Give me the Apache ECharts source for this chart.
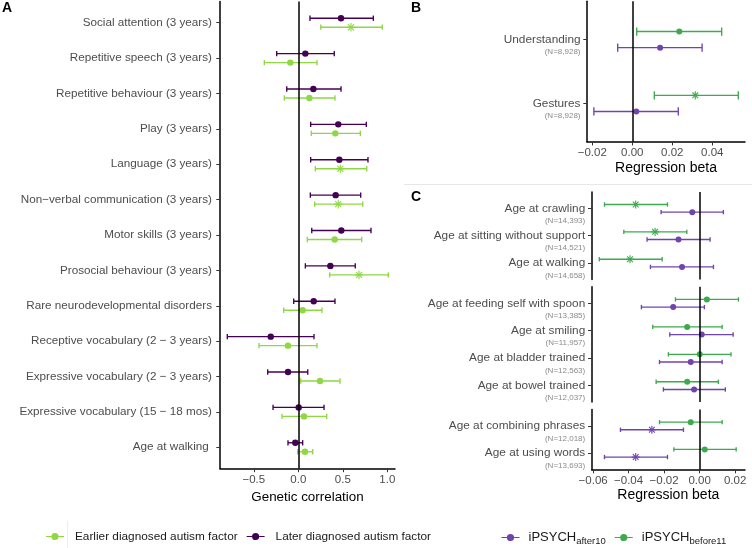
<!DOCTYPE html>
<html><head><meta charset="utf-8">
<script src="https://cdn.jsdelivr.net/npm/echarts@6/dist/echarts.min.js"></script>
<style>html,body{margin:0;padding:0;background:#fff}#c{width:752px;height:548px}</style>
</head><body><div id="c"></div>
<script>
const FONT = '"Liberation Sans", Arial, Helvetica, sans-serif';

// ---------- Panel A data ----------
const catsA = ['Social attention (3 years)', 'Repetitive speech (3 years)', 'Repetitive behaviour (3 years)',
  'Play (3 years)', 'Language (3 years)', 'Non\u2212verbal communication (3 years)', 'Motor skills (3 years)',
  'Prosocial behaviour (3 years)', 'Rare neurodevelopmental disorders', 'Receptive vocabulary (2 \u2212 3 years)',
  'Expressive vocabulary (2 \u2212 3 years)', 'Expressive vocabulary (15 \u2212 18 mos)', 'Age at walking '];
const laterEst = [0.48, 0.079, 0.169, 0.449, 0.461, 0.42, 0.483, 0.36, 0.173, -0.31, -0.116, 0.004, -0.034];
const laterLo  = [0.131, -0.243, -0.13, 0.139, 0.139, 0.135, 0.151, 0.079, -0.052, -0.798, -0.344, -0.284, -0.116];
const laterHi  = [0.843, 0.404, 0.48, 0.764, 0.783, 0.701, 0.817, 0.64, 0.412, 0.176, 0.106, 0.289, 0.049];
const laterSig = [0,0,0,0,0,0,0,0,0,0,0,0,0];
const earlierEst = [0.592, -0.09, 0.124, 0.416, 0.472, 0.449, 0.409, 0.682, 0.049, -0.116, 0.244, 0.064, 0.075];
const earlierLo  = [0.252, -0.382, -0.157, 0.146, 0.191, 0.184, 0.101, 0.353, -0.164, -0.442, 0.027, -0.183, -0.007];
const earlierHi  = [0.944, 0.21, 0.412, 0.697, 0.769, 0.724, 0.712, 1.011, 0.266, 0.21, 0.469, 0.319, 0.162];
const earlierSig = [1,0,0,0,1,1,0,1,0,0,0,0,0];
const ticksA = [-0.5, 0, 0.5, 1.0];

// ---------- Panel B data ----------
const catsB = ['Understanding', 'Gestures'];
const nB = ['(N=8,928)', '(N=8,928)'];
const bBeforeEst = [0.0235, 0.0315];
const bBeforeLo  = [0.0022, 0.011];
const bBeforeHi  = [0.0447, 0.053];
const bBeforeSig = [0, 1];
const bAfterEst = [0.0139, 0.002];
const bAfterLo  = [-0.0073, -0.0192];
const bAfterHi  = [0.0349, 0.023];
const bAfterSig = [0, 0];
const ticksB = [-0.02, 0, 0.02, 0.04];

// ---------- Panel C data ----------
const catsC = ['Age at crawling', 'Age at sitting without support', 'Age at walking',
  'Age at feeding self with spoon', 'Age at smiling', 'Age at bladder trained', 'Age at bowel trained',
  'Age at combining phrases', 'Age at using words'];
const nC = ['(N=14,393)', '(N=14,521)', '(N=14,658)', '(N=13,385)', '(N=11,957)', '(N=12,563)', '(N=12,037)', '(N=12,018)', '(N=13,693)'];
const facetC = [0, 0, 0, 1, 1, 1, 1, 2, 2];
const cBeforeEst = [-0.0360, -0.0251, -0.0392, 0.0041, -0.0070, 0.0001, -0.0070, -0.0050, 0.0029];
const cBeforeLo  = [-0.0536, -0.0427, -0.0565, -0.0136, -0.0264, -0.0176, -0.0245, -0.0226, -0.0145];
const cBeforeHi  = [-0.0181, -0.0072, -0.0211, 0.0219, 0.0127, 0.0177, 0.0106, 0.0127, 0.0206];
const cBeforeSig = [1, 1, 1, 0, 0, 0, 0, 0, 0];
const cAfterEst = [-0.0041, -0.0119, -0.0099, -0.0149, 0.0012, -0.0050, -0.0031, -0.0269, -0.0360];
const cAfterLo  = [-0.0217, -0.0296, -0.0277, -0.0328, -0.0168, -0.0226, -0.0204, -0.0446, -0.0536];
const cAfterHi  = [0.0134, 0.0059, 0.0078, 0.0027, 0.0189, 0.0127, 0.0145, -0.0091, -0.0181];
const cAfterSig = [0, 0, 0, 0, 0, 0, 0, 1, 1];
const ticksC = [-0.06, -0.04, -0.02, 0, 0.02];

const GREEN_A = '#8FD744', PURPLE_A = '#440154';
const PURPLE = '#7044AE', GREEN = '#3DAA4E';
const NAME_EARLY = 'Earlier diagnosed autism factor', NAME_LATE = 'Later diagnosed autism factor';
const NAME_AFTER = 'iPSYCH|after10', NAME_BEFORE = 'iPSYCH|before11';

const zeroLine = {
  silent: true, symbol: ['none', 'none'], label: {show: false}, animation: false,
  lineStyle: {color: '#000', width: 1.5, type: 'solid'}, emphasis: {disabled: true},
  data: [{xAxis: 0}]
};

function errSeries(name, color, idx, est, lo, hi, rows, sig, dodge, capW, r, withZero) {
  const data = est.map((e, i) => [e, lo[i], hi[i], rows[i], sig[i]]);
  const s = {
    type: 'custom', name: name, xAxisIndex: idx, yAxisIndex: idx, data: data,
    itemStyle: {color: color}, animation: false,
    encode: {x: [0, 1, 2], y: 3},
    renderItem: function (params, api) {
      const y = api.value(3) + dodge;
      const pL = api.coord([api.value(1), y]);
      const pR = api.coord([api.value(2), y]);
      const pE = api.coord([api.value(0), y]);
      const h = Math.abs(api.size([0, capW])[1]) / 2;
      const ls = {stroke: color, lineWidth: 1.35};
      const ch = [
        {type: 'line', shape: {x1: pL[0], y1: pL[1], x2: pR[0], y2: pR[1]}, style: ls},
        {type: 'line', shape: {x1: pL[0], y1: pL[1] - h, x2: pL[0], y2: pL[1] + h}, style: ls},
        {type: 'line', shape: {x1: pR[0], y1: pR[1] - h, x2: pR[0], y2: pR[1] + h}, style: ls}
      ];
      if (api.value(4)) {
        const a = r * 1.35, d = a * 0.7071, st = {stroke: color, lineWidth: 1.1};
        ch.push({type: 'line', shape: {x1: pE[0] - a, y1: pE[1], x2: pE[0] + a, y2: pE[1]}, style: st});
        ch.push({type: 'line', shape: {x1: pE[0], y1: pE[1] - a, x2: pE[0], y2: pE[1] + a}, style: st});
        ch.push({type: 'line', shape: {x1: pE[0] - d, y1: pE[1] - d, x2: pE[0] + d, y2: pE[1] + d}, style: st});
        ch.push({type: 'line', shape: {x1: pE[0] - d, y1: pE[1] + d, x2: pE[0] + d, y2: pE[1] - d}, style: st});
      } else {
        ch.push({type: 'circle', shape: {cx: pE[0], cy: pE[1], r: r}, style: {fill: color}});
      }
      return {type: 'group', children: ch};
    }
  };
  if (withZero) s.markLine = zeroLine;
  return s;
}

function fmtNum(d) {
  return function (v) {
    const t = Math.abs(v).toFixed(d);
    return v < -1e-9 ? '\u2212' + t : t;
  };
}

function xAxisCfg(idx, min, max, ticks, dec, show, nameGap, nameSize) {
  if (!show) return {gridIndex: idx, type: 'value', min: min, max: max, show: false};
  return {
    gridIndex: idx, type: 'value', min: min, max: max,
    axisLine: {show: true, onZero: false, lineStyle: {color: '#000', width: 1.5}},
    axisTick: {show: true, customValues: ticks, length: 3.7, lineStyle: {color: '#333', width: 1}},
    axisLabel: {customValues: ticks, formatter: fmtNum(dec), margin: 5, fontSize: 11.5, color: '#4d4d4d', fontFamily: FONT},
    splitLine: {show: false},
    name: 'x', nameLocation: 'middle', nameGap: nameGap,
    nameTextStyle: {fontSize: nameSize, color: '#000', fontFamily: FONT}
  };
}

function yAxisCfg(idx, labels, nLabels, margin) {
  const n = labels.length;
  const vals = labels.map((_, i) => i);
  const lab = {customValues: vals, margin: margin, fontFamily: FONT, color: '#4d4d4d', fontSize: 11.7};
  if (nLabels) {
    lab.formatter = v => '{m|' + labels[v] + '}\n{n|' + nLabels[v] + '}';
    lab.padding = [11, 0, 0, 0];
    lab.rich = {
      m: {fontSize: 11.8, color: '#4d4d4d', lineHeight: 14, align: 'right', fontFamily: FONT},
      n: {fontSize: 8, color: '#8a8a8a', lineHeight: 11, align: 'right', fontFamily: FONT}
    };
  } else {
    lab.formatter = v => labels[v];
  }
  return {
    gridIndex: idx, type: 'value', inverse: true, min: -0.6, max: n - 0.4,
    axisLine: {show: true, onZero: false, lineStyle: {color: '#000', width: 1.5}},
    axisTick: {show: true, customValues: vals, length: 3.7, lineStyle: {color: '#333', width: 1}},
    axisLabel: lab,
    splitLine: {show: false}
  };
}

// rows within each facet of panel C
const rowC = facetC.map((f, i) => facetC.slice(0, i).filter(g => g === f).length);
function pick(arr, f) { return arr.filter((_, i) => facetC[i] === f); }

const rowsA = catsA.map((_, i) => i);
const rowsB = catsB.map((_, i) => i);

const xAxes = [
  xAxisCfg(0, -0.88, 1.0865, ticksA, 1, true, 19, 13.4),
  xAxisCfg(1, -0.02265, 0.05635, ticksB, 2, true, 19, 14),
  xAxisCfg(2, -0.0608, 0.02558, ticksC, 2, false),
  xAxisCfg(3, -0.0608, 0.02558, ticksC, 2, false),
  xAxisCfg(4, -0.0608, 0.02558, ticksC, 2, true, 19, 14)
];
xAxes[0].name = 'Genetic correlation';
xAxes[1].name = 'Regression beta';
xAxes[4].name = 'Regression beta';

const yAxes = [
  yAxisCfg(0, catsA, null, 8),
  yAxisCfg(1, catsB, nB, 6.5),
  yAxisCfg(2, pick(catsC, 0), pick(nC, 0), 6.5),
  yAxisCfg(3, pick(catsC, 1), pick(nC, 1), 6.5),
  yAxisCfg(4, pick(catsC, 2), pick(nC, 2), 6.5)
];

const series = [
  errSeries(NAME_EARLY, GREEN_A, 0, earlierEst, earlierLo, earlierHi, rowsA, earlierSig, 0.127, 0.15, 3.2, false),
  errSeries(NAME_LATE, PURPLE_A, 0, laterEst, laterLo, laterHi, rowsA, laterSig, -0.127, 0.15, 3.2, true),
  errSeries(NAME_AFTER, PURPLE, 1, bAfterEst, bAfterLo, bAfterHi, rowsB, bAfterSig, 0.126, 0.13, 3, false),
  errSeries(NAME_BEFORE, GREEN, 1, bBeforeEst, bBeforeLo, bBeforeHi, rowsB, bBeforeSig, -0.126, 0.13, 3, true)
];
for (let f = 0; f < 3; f++) {
  series.push(errSeries(NAME_AFTER, PURPLE, 2 + f, pick(cAfterEst, f), pick(cAfterLo, f), pick(cAfterHi, f), pick(rowC, f), pick(cAfterSig, f), 0.14, 0.16, 3, false));
  series.push(errSeries(NAME_BEFORE, GREEN, 2 + f, pick(cBeforeEst, f), pick(cBeforeLo, f), pick(cBeforeHi, f), pick(rowC, f), pick(cBeforeSig, f), -0.14, 0.16, 3, true));
}

const ICON = 'path://M0,3.05 L5.4,3.05 L5.4,4.15 L0,4.15 Z M12.6,3.05 L18,3.05 L18,4.15 L12.6,4.15 Z M9,0 A3.6,3.6 0 1 1 8.99,0 Z';

const option = {
  animation: false,
  backgroundColor: '#fff',
  grid: [
    {left: 220, top: 1.5, width: 175, height: 467},
    {left: 587, top: 1.3, width: 158, height: 140.4},
    {left: 591.7, top: 191.9, width: 153.3, height: 87.6},
    {left: 591.7, top: 286.8, width: 153.3, height: 115.3},
    {left: 591.7, top: 409.6, width: 153.3, height: 60}
  ],
  xAxis: xAxes,
  yAxis: yAxes,
  legend: [
    {
      data: [NAME_EARLY, NAME_LATE], left: 46, top: 530.5, padding: 0, icon: ICON, itemWidth: 18, itemHeight: 7.2, itemGap: 9,
      selectedMode: false,
      textStyle: {fontSize: 11.8, color: '#1a1a1a', fontFamily: FONT, padding: [0, 0, 0, 6]}
    },
    {
      data: [NAME_AFTER, NAME_BEFORE], left: 501.5, top: 528.5, padding: 0, icon: ICON, itemWidth: 18, itemHeight: 7.2, itemGap: 9,
      selectedMode: false,
      formatter: n => n.split('|')[0] + '{s|' + n.split('|')[1] + '}',
      textStyle: {
        fontSize: 13, color: '#1a1a1a', fontFamily: FONT, padding: [0, 0, 0, 4], lineHeight: 18,
        rich: {s: {fontSize: 9.5, color: '#1a1a1a', fontFamily: FONT, lineHeight: 10, verticalAlign: 'bottom'}}
      }
    }
  ],
  graphic: [
    {type: 'text', left: 2, top: 1, style: {text: 'A', font: 'bold 14px ' + FONT, fill: '#000'}},
    {type: 'text', left: 411, top: 1, style: {text: 'B', font: 'bold 14px ' + FONT, fill: '#000'}},
    {type: 'text', left: 411, top: 190, style: {text: 'C', font: 'bold 14px ' + FONT, fill: '#000'}},
    {type: 'line', shape: {x1: 404, y1: 184.5, x2: 752, y2: 184.5}, style: {stroke: '#e6e6e6', lineWidth: 1}},
    {type: 'line', shape: {x1: 67.5, y1: 521, x2: 67.5, y2: 548}, style: {stroke: '#eeeeee', lineWidth: 1}}
  ],
  series: series
};

const chart = echarts.init(document.getElementById('c'));
chart.setOption(option);
</script>
</body></html>
